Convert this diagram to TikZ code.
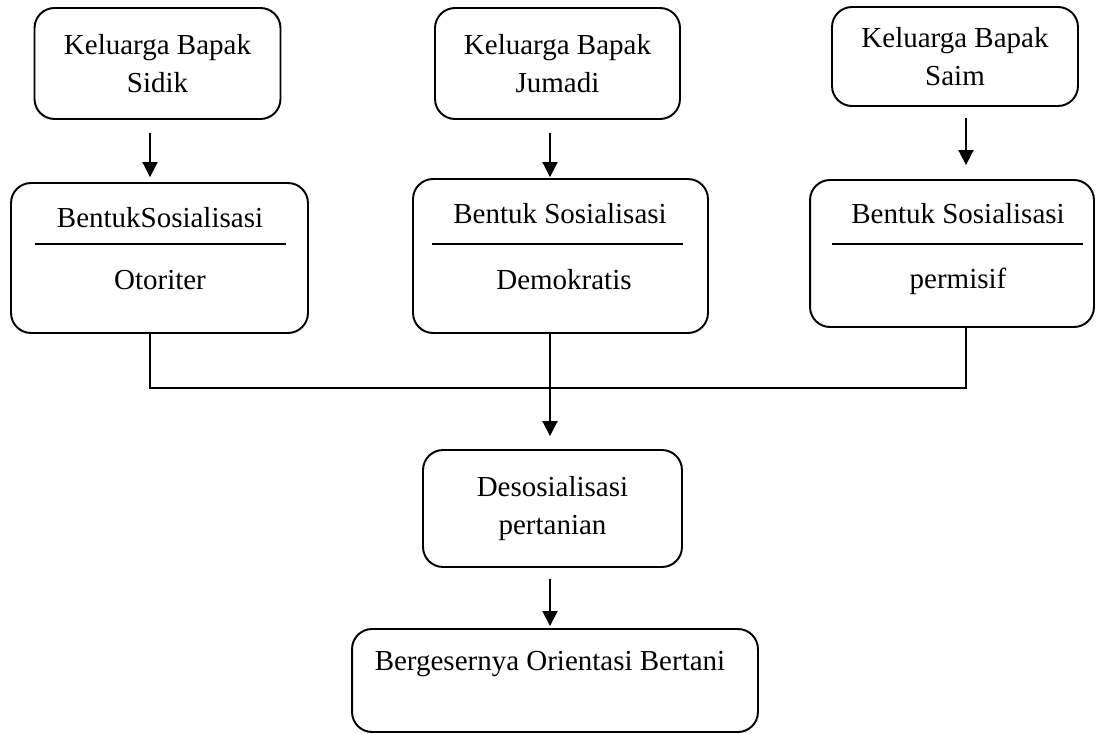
\documentclass[tikz,border=0pt]{standalone}
\usepackage{fontspec}
\setmainfont{Liberation Serif}
\usetikzlibrary{arrows.meta}

\begin{document}
\begin{tikzpicture}[x=0.02cm, y=-0.02cm, line width=1.1pt,
    box/.style={draw, rounded corners=0.4cm, align=center, inner sep=0pt,
      font=\fontsize{16.5}{21.2}\selectfont},
    txt/.style={anchor=base, inner sep=0pt, font=\fontsize{16.5}{21.2}\selectfont},
    arrow/.style={-{Triangle[length=0.3cm, width=0.3cm]}}]
      \useasboundingbox (0,0) rectangle (1096,734);
      % Keluarga
      \node[box, minimum width=4.92cm, minimum height=2.22cm] (sidik) at (157.5, 63.5) {Keluarga Bapak\\Sidik};
      \node[box, minimum width=4.9cm, minimum height=2.22cm] (jumadi) at (557.5, 63.5) {Keluarga Bapak\\Jumadi};
      \node[box, minimum width=4.92cm, minimum height=1.98cm] (saim) at (955, 56.5) {Keluarga Bapak\\Saim};
      % Bentuk sosialisasi
      \node[box, minimum width=5.94cm, minimum height=3cm] (otoriter) at (159.5, 258) {};
      \node[txt] (otoriterT) at (160, 227) {BentukSosialisasi};
      \node[txt] (otoriterB) at (160, 289) {Otoriter};
      \draw (35, 244) -- (286, 244);
      \node[box, minimum width=5.9cm, minimum height=3.08cm] (demokratis) at (560.5, 256) {};
      \node[txt] (demokratisT) at (560, 223) {Bentuk Sosialisasi};
      \node[txt] (demokratisB) at (564, 289) {Demokratis};
      \draw (432, 244) -- (683, 244);
      \node[box, minimum width=5.68cm, minimum height=2.94cm] (permisif) at (952, 253.5) {};
      \node[txt] (permisifT) at (958, 223) {Bentuk Sosialisasi};
      \node[txt] (permisifB) at (958, 288) {permisif};
      \draw (832, 244) -- (1083, 244);
      % Desosialisasi dan orientasi
      \node[box, minimum width=5.18cm, minimum height=2.34cm] (deso) at (552.5, 508.5) {Desosialisasi\\pertanian};
      \node[box, minimum width=8.12cm, minimum height=2.06cm] (geser) at (555, 680.5) {};
      \node[txt] (geserT) at (550, 670) {Bergesernya Orientasi Bertani};

      \coordinate (kolA) at (150, 0);
      \coordinate (kolB) at (550, 0);
      \coordinate (kolC) at (966, 0);
      \coordinate (temu) at (550, 388);

      \draw[arrow, shorten <=0.26cm, shorten >=0.1cm] (sidik.south -| kolA) -- (otoriter.north -| kolA);
      \draw[arrow, shorten <=0.26cm, shorten >=0.02cm] (jumadi.south -| kolB) -- (demokratis.north -| kolB);
      \draw[arrow, shorten <=0.22cm, shorten >=0.28cm] (saim.south -| kolC) -- (permisif.north -| kolC);
      \draw (otoriter.south -| kolA) |- (temu) -| (permisif.south -| kolC);
      \draw[arrow, shorten >=0.26cm] (demokratis.south -| kolB) -- (deso.north -| kolB);
      \draw[arrow, shorten <=0.22cm, shorten >=0.04cm] (deso.south -| kolB) -- (geser.north -| kolB);
\end{tikzpicture}
\end{document}
